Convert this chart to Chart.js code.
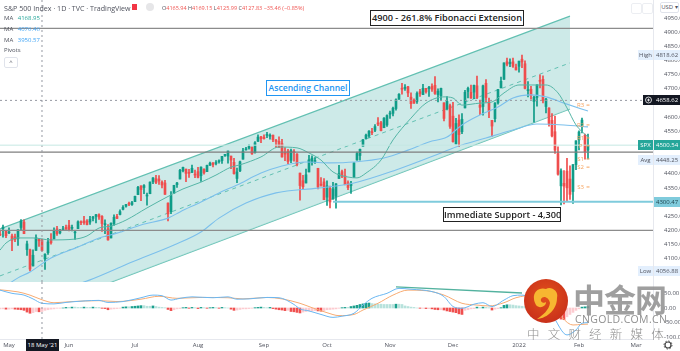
<!DOCTYPE html>
<html>
<head>
<meta charset="utf-8">
<title>S&amp;P 500 Index</title>
<script src="https://cdn.jsdelivr.net/npm/chart.js@4"></script>
<style>
  html, body { margin: 0; padding: 0; background: #fff; width: 680px; height: 351px; overflow: hidden; }
  canvas { position: absolute; left: 0; }
  #priceChart { top: 0; }
  #macdChart { top: 282px; }
  .t { position: absolute; white-space: nowrap; font-family: "Open Sans", sans-serif; font-size: 6px; line-height: 10px; color: #50535e; z-index: 2; }
  .note { position: absolute; white-space: nowrap; z-index: 3; background: #fff; border: 1px solid #222; text-align: center; font-family: "Open Sans", sans-serif; font-weight: 600; font-size: 9.2px; color: #222; box-sizing: border-box; }
  .mark { position: absolute; white-space: nowrap; z-index: 4; color: #8f8f8f; font-family: "Noto Sans CJK SC", sans-serif; }
</style>
</head>
<body>
<canvas id="priceChart" width="680" height="282"></canvas>
<canvas id="macdChart" width="680" height="69"></canvas>

<div class="t" style="left:4px;top:3px;font-size:7.1px">S&amp;P 500 Index · 1D · TVC · TradingView</div>
<div style="position:absolute;left:132px;top:4px;width:5px;height:6px;background:#f23645;z-index:2"></div>
<div style="position:absolute;left:146px;top:3px;width:8px;height:8px;border-radius:50%;background:#e6e6e8;z-index:2"></div>
<div class="t" style="left:162px;top:3px;color:#ef5350;font-size:5.5px"><span style="color:#50535e">O</span>4165.94 <span style="color:#50535e">H</span>4169.15 <span style="color:#50535e">L</span>4125.99 <span style="color:#50535e">C</span>4127.83 −35.46 (−0.85%)</div>
<div class="t" style="left:4px;top:13px">MA <span style="color:#26a69a;margin-left:3px">4168.95</span></div>
<div class="t" style="left:4px;top:24px">MA <span style="color:#42a5f5;margin-left:3px">4076.46</span></div>
<div class="t" style="left:4px;top:35px">MA <span style="color:#42a5f5;margin-left:3px">3950.57</span></div>
<div class="t" style="left:4px;top:45px">Pivots</div>
<div class="t" style="left:4px;top:57px;width:12px;height:9px;border:1px solid #e0e3eb;border-radius:2px;text-align:center;line-height:9px">^</div>

<div class="note" style="left:370px;top:10px;width:154px;height:16px;line-height:14px">4900 - 261.8% Fibonacci Extension</div>
<div class="note" style="left:266px;top:80px;width:84px;height:16px;line-height:14px;font-size:8.6px;color:#2196f3;border-color:#2196f3">Ascending Channel</div>
<div class="note" style="left:443px;top:207px;width:118px;height:15px;line-height:13px">Immediate Support - 4,300</div>

<div class="t" style="left:26px;top:339px;width:33px;height:12px;background:#131722;color:#fff;text-align:center;line-height:12px">18 May '21</div>

<!-- top right buttons -->
<div style="position:absolute;left:631px;top:3px;width:9px;height:9px;border:1px solid #eceef2;border-radius:2px;z-index:2"></div>
<div style="position:absolute;left:642px;top:3px;width:9px;height:9px;border:1px solid #eceef2;border-radius:2px;z-index:2"></div>
<div class="t" style="left:660px;top:2px;width:17px;height:9px;border:1px solid #e0e3eb;border-radius:2px;background:#fff;text-align:center;line-height:9px">USD ▾</div>
<svg style="position:absolute;left:663px;top:340px;z-index:2" width="10" height="10" viewBox="0 0 10 10"><circle cx="5" cy="5" r="3" fill="none" stroke="#444" stroke-width="1.2"/><circle cx="5" cy="5" r="4" fill="none" stroke="#444" stroke-width="1" stroke-dasharray="1.5 1.6"/></svg>

<!-- watermark -->
<svg style="position:absolute;left:524px;top:279px;z-index:4" width="44" height="44" viewBox="0 0 44 44">
  <defs><radialGradient id="logoFill" cx="0.5" cy="0.4" r="0.6"><stop offset="0" stop-color="#e2511c"/><stop offset="1" stop-color="#c9301a"/></radialGradient></defs>
  <circle cx="22" cy="22" r="22" fill="url(#logoFill)"/>
  <path d="M10 20 C9 12 16 8 22 10 C27 7 35 12 33 19 C33 30 24 39 13 40 C19 36 25 31 26 24 C25 18 19 16 17 20 C16 23 20 25 22 23 C22 28 15 30 12 26 C11 24 10 22 10 20 Z" fill="#f7b731"/>
</svg>
<div class="mark" style="left:573px;top:275px;font-size:32px;line-height:46px;font-weight:700;letter-spacing:-1px;opacity:.85">中金网</div>
<div class="mark" style="left:575px;top:313px;font-size:10.5px;line-height:12px;letter-spacing:.35px;font-family:'Open Sans',sans-serif">CNGOLD.COM.CN</div>
<div class="mark" style="left:527px;top:326px;font-size:12.5px;line-height:15px;letter-spacing:8.2px;font-weight:300">中文财经新媒体</div>

<script>
// bars start three sessions before 3 May 2021
const firstBar = -3;

// daily candles
const opens = [
  4185,4206,4198,
  4191,4180,4177,4170,4210,4229,4132,4131,4074,4129,4170,4166,4099,4121,4168,4170,4205,4191,4201,4210,
  4217,4207,4191,4206,4230,4233,4233,4229,4242,4249,4255,4249,4220,4205,4173,4224,4249,4256,4274,4285,4293,4291,
  4301,4326,4357,4351,4321,4329,4372,4382,4381,4370,4367,4296,4266,4331,4361,4381,4410,4416,4403,4404,4396,
  4407,4393,4416,4407,4429,4438,4436,4442,4446,4464,4462,4462,4440,4383,4410,4451,4484,4490,4493,4474,4514,4530,
  4529,4535,4532,4536,4518,4514,4506,4474,4480,4447,4478,4469,4402,4375,4367,4406,4439,4443,4419,4363,4371,
  4317,4348,4310,4320,4383,4407,4392,4368,4358,4387,4448,4464,4497,4524,4533,4546,4553,4579,4580,4562,4572,
  4610,4613,4630,4663,4700,4701,4707,4670,4659,4655,4689,4679,4701,4700,4708,4712,4679,4675,4650,4629,4640,
  4603,4505,4589,4548,4632,4690,4687,4688,4710,4642,4637,4719,4653,4588,4594,4650,4703,4733,4795,4788,4795,4776,
  4779,4804,4788,4693,4698,4655,4669,4728,4733,4637,4632,4588,4548,4471,4357,4366,4409,4381,4337,4432,
  4519,4566,4536,4483
];
const highs = [
  4201,4218,4198,
  4209,4187,4187,4202,4238,4237,4162,4134,4131,4184,4172,4169,4117,4172,4188,4209,4214,4203,4214,4218,
  4235,4218,4198,4233,4233,4249,4238,4249,4249,4256,4258,4252,4237,4220,4226,4255,4256,4272,4287,4292,4300,4302,
  4321,4355,4357,4361,4331,4371,4386,4394,4393,4375,4376,4297,4337,4359,4369,4415,4423,4416,4415,4430,4413,
  4422,4424,4417,4430,4441,4439,4446,4449,4461,4468,4480,4462,4454,4420,4444,4489,4493,4502,4495,4513,4537,4532,
  4537,4546,4541,4536,4521,4530,4521,4492,4486,4487,4485,4471,4402,4394,4416,4465,4463,4457,4419,4386,4383,
  4375,4356,4369,4365,4429,4413,4416,4375,4373,4439,4476,4487,4520,4540,4552,4560,4573,4598,4585,4598,4608,
  4621,4635,4664,4683,4719,4714,4708,4685,4664,4689,4698,4715,4701,4708,4717,4743,4699,4702,4650,4672,4646,
  4652,4595,4608,4612,4694,4706,4713,4713,4744,4660,4713,4732,4667,4588,4651,4698,4741,4791,4808,4805,4808,4787,
  4797,4819,4798,4725,4708,4674,4714,4749,4745,4666,4632,4612,4603,4495,4417,4411,4454,4428,4432,4516,
  4551,4596,4540,4540
];
const lows = [
  4181,4176,4174,
  4188,4128,4160,4147,4201,4188,4111,4057,4074,4129,4143,4126,4062,4115,4151,4170,4182,4187,4200,4203,
  4198,4198,4168,4206,4220,4221,4219,4221,4233,4226,4238,4196,4188,4165,4173,4217,4241,4254,4272,4282,4287,4288,
  4301,4326,4305,4329,4289,4329,4365,4365,4362,4350,4327,4233,4259,4330,4351,4381,4406,4372,4387,4404,4386,
  4385,4373,4398,4407,4430,4424,4431,4437,4436,4461,4437,4418,4398,4368,4407,4451,4483,4486,4468,4472,4514,4509,
  4522,4527,4522,4513,4493,4493,4458,4446,4435,4439,4444,4427,4306,4347,4367,4406,4430,4436,4346,4356,4308,
  4288,4279,4310,4278,4383,4386,4360,4343,4330,4387,4448,4448,4497,4522,4528,4538,4548,4569,4551,4562,4567,
  4595,4604,4624,4662,4681,4694,4672,4630,4648,4648,4673,4679,4684,4673,4690,4680,4653,4660,4586,4625,4560,
  4511,4505,4495,4541,4632,4667,4666,4665,4665,4608,4606,4652,4598,4531,4583,4645,4703,4733,4780,4778,4775,4766,
  4758,4774,4699,4671,4663,4582,4638,4703,4650,4614,4568,4530,4471,4395,4290,4293,4305,4309,4295,4414,
  4484,4544,4451,4452
];
const closes = [
  4183,4211,4181,
  4193,4165,4168,4202,4233,4188,4152,4063,4112,4174,4163,4128,4116,4159,4156,4197,4188,4196,4201,4204,
  4202,4208,4193,4230,4227,4227,4220,4239,4247,4255,4247,4224,4222,4166,4225,4246,4242,4266,4281,4291,4292,4298,
  4320,4352,4344,4358,4321,4370,4385,4369,4374,4360,4327,4258,4323,4359,4367,4412,4422,4401,4401,4419,4395,
  4387,4423,4403,4429,4437,4432,4437,4442,4461,4468,4480,4448,4400,4406,4442,4480,4486,4496,4470,4509,4529,4523,
  4524,4537,4535,4520,4514,4493,4459,4469,4443,4481,4474,4433,4358,4354,4396,4449,4455,4443,4353,4359,4308,
  4357,4300,4346,4364,4400,4391,4361,4351,4364,4438,4471,4486,4520,4536,4550,4545,4566,4575,4552,4596,4605,
  4614,4631,4661,4680,4698,4702,4685,4647,4649,4683,4683,4701,4689,4705,4698,4683,4691,4701,4595,4655,4567,
  4513,4577,4538,4592,4687,4701,4667,4712,4669,4634,4710,4669,4621,4568,4649,4697,4726,4791,4786,4793,4779,4766,
  4797,4794,4701,4696,4677,4670,4713,4726,4659,4663,4577,4533,4483,4398,4410,4356,4350,4327,4432,4516,
  4547,4589,4477,4501
];

// moving averages, sampled by eye at these bars
const ma20Bars = [-3,-1,3,8,14,22,26,30,34,39,46,54,58,64,69,74,77,84,90,96,100,104,108,113,116,119,124,128,134,139,145,148,151,157,161,165,170,174,179,183,186,189,193];
const ma20Values = [4130,4155,4173,4173,4166,4169,4180,4208,4215,4236,4279,4325,4346,4370,4395,4423,4431,4459,4494,4491,4473,4448,4406,4388,4385,4402,4448,4519,4596,4649,4671,4667,4642,4649,4653,4685,4713,4713,4713,4685,4632,4572,4529];
const ma50Bars = [0,3,7,14,23,30,36,44,53,57,64,70,76,84,91,99,107,115,125,133,140,146,151,157,163,168,174,179,185,193];
const ma50Values = [4012,4032,4053,4102,4141,4173,4190,4219,4243,4265,4300,4332,4360,4402,4427,4441,4438,4441,4455,4483,4512,4529,4572,4607,4635,4667,4678,4671,4649,4621];
const ma100Bars = [22,27,41,55,64,70,79,89,103,115,129,144,149,159,168,176,185,193];
const ma100Values = [4007,4025,4088,4148,4194,4243,4296,4332,4349,4367,4413,4473,4494,4526,4554,4575,4572,4565];

// ascending channel drawing
const channelBars = [-3,187];
const channelTop = [4205,4956];
const channelMiddle = [4039,4791];
const channelBottom = [3869,4628];

// horizontal levels
const resistanceLevel = 4913;
const middleLevel = 4476;
const lowerLevel = 4200;
const supportLevel = 4300.47;
const supportStartBar = 108;
const lastPrice = 4500.54;
const crosshairPrice = 4658.62;
const crosshairBar = 11;

// pivots next to the last bars
const pivotBar = 190.5;
const pivotNames = ['R3','R2','R1','P','S1','S2','S3'];
const pivotLevels = [4642,4572,4526,4498,4452,4423,4353];

// axis labels
const priceTicks = [4950,4900,4850,4800,4750,4700,4600,4550,4400,4350,4250,4200,4150,4100];
const macdTicks = [50,0,-50,-100];
const monthTicks = [0,20,42,63,85,106,127,148,170,190,209];
const monthLabels = ['May','Jun','Jul','Aug','Sep','Oct','Nov','Dec','2022','Feb','Mar'];

// macd pane
const macdBars = [-3,1,5,8,11,15,19,25,30,33,38,44,48,51,54,57,61,68,73,76,80,86,90,95,97,100,104,108,111,115,118,121,126,130,134,141,145,148,151,155,158,161,165,168,171,176,181,186,189,191,193];
const macdValues = [61,50,44,31,16,14,19,24,26,19,22,35,44,42,27,33,38,35,38,30,31,36,35,12,-3,-10,-22,-32,-28,-18,10,33,50,67,64,56,39,5,-1,13,18,5,27,42,44,25,-24,-92,-75,-52,-50];
const signalBars = [-3,3,7,11,15,21,30,36,44,50,56,64,73,78,86,91,97,101,106,110,115,118,123,128,133,139,145,151,156,160,165,169,175,181,188,191,193];
const signalValues = [62,55,44,28,18,22,25,22,30,40,33,36,35,31,36,31,16,1,-16,-26,-22,-7,16,44,61,59,44,16,10,7,18,35,44,5,-58,-56,-55];
const histogram = [
  -3,-3,-4,-4,-3,-4,-5,-6,-8,-14,-18,-16,-12,-13,-12,-8,-6,-4,-3,-1,-1,0,
  2,2,3,3,2,2,3,2,2,3,2,2,-1,-2,-6,-4,-3,-2,-1,3,4,4,5,6,7,8,8,6,6,7,5,3,2,1,
  -5,-9,-6,-3,-2,1,2,-1,2,1,-2,2,1,-1,1,2,1,-1,2,1,0,-4,-8,-7,-5,-3,-3,-2,-1,
  1,2,3,2,1,2,-2,-4,-6,-7,-9,-8,-12,-13,-15,-17,-14,-12,-10,-10,-9,-10,-11,-9,
  -6,-5,-4,-3,-1,1,2,2,5,7,9,12,14,16,17,15,14,13,13,12,12,12,12,13,13,12,7,5,3,2,
  0,-1,-1,-2,-2,-3,-5,-6,-6,-7,-10,-12,-14,-16,-20,-22,-8,-6,-3,-2,3,1,3,2,1,-7,-4,-2,1,
  9,11,11,10,8,7,6,5,3,1,-2,-4,-6,-10,-14,-18,-22,-26,-32,-38,-40,-30,-22,-15,-8,-3,3,4,5
];
const divergenceBars = [129,171];
const divergenceValues = [72,51];

// axis badges on the price scale
const badgeValues = [4818.62,4658.62,4500.54,4448.25,4300.47,4056.88];
const badgeTags = ['High','','SPX','Avg','','Low'];

const UP = '#0f9c88';
const DOWN = '#ef4d4d';
const LABEL = '#50535e';
const AXIS_FONT = { family: '"Open Sans", sans-serif', size: 6 };
const xMin = firstBar;
const xMax = 214.67;
const axisWidth = 27;

const pts = (xs, ys) => xs.map((x, i) => ({ x, y: ys[i] }));
const barOf = i => i + firstBar;
const candleColors = opens.map((o, i) => closes[i] >= o ? UP : DOWN);

function lineSet(data, color, width, extra) {
  return Object.assign({ type: 'line', data, borderColor: color, borderWidth: width, pointRadius: 0, fill: false, xAxisID: 'x', yAxisID: 'y', order: 5 }, extra);
}
function level(value, color, width, extra, from) {
  return lineSet(pts([from === undefined ? xMin : from, xMax], [value, value]), color, width, extra);
}
// labels would otherwise pull the panes in by half a line
function noEdgePadding(s) {
  s.paddingTop = 0;
  s.paddingBottom = 0;
  s.paddingLeft = 0;
  s.paddingRight = 0;
}

// pivots and right hand badges, placed through the scales
const pricePlugin = {
  id: 'priceExtras',
  afterDatasetsDraw(chart) {
    const { ctx, scales: { x, y } } = chart;
    ctx.save();
    ctx.textBaseline = 'middle';
    ctx.font = '6px "Open Sans", sans-serif';
    pivotNames.forEach((name, i) => {
      const py = y.getPixelForValue(pivotLevels[i]);
      const px = x.getPixelForValue(pivotBar);
      ctx.fillStyle = '#f6a35e';
      ctx.textAlign = 'center';
      ctx.fillText(name, px, py);
      ctx.fillRect(px + 6, py - 0.5, 3, 1);
    });
    ctx.restore();
  },
  afterDraw(chart) {
    const { ctx, scales: { y } } = chart;
    const styles = [
      { bg: '#e3effd', fg: LABEL },
      { bg: '#131722', fg: '#fff' },
      { bg: '#26a69a', fg: '#fff' },
      { bg: '#e3effd', fg: LABEL },
      { bg: '#7fcbdc', fg: '#1c3f48' },
      { bg: '#e3effd', fg: LABEL }
    ];
    ctx.save();
    ctx.textBaseline = 'middle';
    ctx.font = '6px "Open Sans", sans-serif';
    badgeValues.forEach((v, i) => {
      const py = Math.round(y.getPixelForValue(v));
      const s = styles[i];
      ctx.fillStyle = s.bg;
      ctx.fillRect(654, py - 5, 26, 10);
      ctx.fillStyle = s.fg;
      ctx.textAlign = 'left';
      ctx.fillText(v.toFixed(2), 656, py);
      if (badgeTags[i]) {
        ctx.fillStyle = s.bg;
        ctx.fillRect(638, py - 5, 15, 10);
        ctx.fillStyle = s.fg;
        ctx.textAlign = 'center';
        ctx.fillText(badgeTags[i], 645.5, py);
      }
    });
    // crosshair price badge icon
    const cy = Math.round(y.getPixelForValue(crosshairPrice));
    ctx.fillStyle = '#131722';
    ctx.fillRect(643, cy - 5, 11, 10);
    ctx.strokeStyle = '#fff';
    ctx.lineWidth = 0.8;
    ctx.beginPath();
    ctx.arc(648.5, cy, 3, 0, Math.PI * 2);
    ctx.moveTo(647, cy); ctx.lineTo(650, cy);
    ctx.moveTo(648.5, cy - 1.5); ctx.lineTo(648.5, cy + 1.5);
    ctx.stroke();
    ctx.restore();
  }
};

new Chart(document.getElementById('priceChart'), {
  type: 'bar',
  data: {
    datasets: [
      // channel first so everything else sits on it
      lineSet(pts(channelBars, channelTop), '#62c0b2', 1.2, { fill: '+1', backgroundColor: 'rgba(178,223,219,0.65)', order: 20 }),
      lineSet(pts(channelBars, channelBottom), '#62c0b2', 1.2, { order: 20 }),
      lineSet(pts(channelBars, channelMiddle), '#62c0b2', 1, { borderDash: [4, 4], order: 19 }),
      // candles
      { data: opens.map((o, i) => ({ x: barOf(i), y: [lows[i], highs[i]] })), backgroundColor: candleColors, barThickness: 1, grouped: false, order: 12 },
      { data: opens.map((o, i) => ({ x: barOf(i), y: [Math.min(o, closes[i]), Math.max(o, closes[i])] })), backgroundColor: candleColors, barThickness: 2, minBarLength: 1, grouped: false, order: 11 },
      // moving averages
      lineSet(pts(ma20Bars, ma20Values), '#55b5a6', 1, { cubicInterpolationMode: 'monotone', order: 8 }),
      lineSet(pts(ma50Bars, ma50Values), '#7cc0ec', 1.1, { cubicInterpolationMode: 'monotone', order: 8 }),
      lineSet(pts(ma100Bars, ma100Values), '#7cc0ec', 1.1, { cubicInterpolationMode: 'monotone', order: 8 }),
      // levels
      level(lastPrice, '#c5e8e3', 1),
      level(crosshairPrice, '#9598a1', 1, { borderDash: [2, 3] }),
      lineSet(pts([crosshairBar, crosshairBar], [4017.5, 5013]), '#9598a1', 1, { borderDash: [2, 3] }),
      level(resistanceLevel, '#8c8c8c', 1.3),
      level(middleLevel, '#7f7f7f', 1.3),
      level(lowerLevel, '#8c8c8c', 1.3),
      level(supportLevel, '#7fcbdc', 2, {}, supportStartBar)
    ]
  },
  options: {
    responsive: false,
    animation: false,
    events: [],
    layout: { padding: 0, autoPadding: false },
    plugins: { legend: { display: false }, tooltip: { enabled: false } },
    scales: {
      x: { type: 'linear', display: false, min: xMin, max: xMax, offset: false, grid: { display: false } },
      y: {
        position: 'right',
        min: 4017.5,
        max: 5013,
        grid: { display: false },
        border: { color: '#e6e8ee' },
        afterFit: s => { s.width = axisWidth; noEdgePadding(s); },
        afterBuildTicks: s => { s.ticks = priceTicks.map(value => ({ value })); },
        ticks: { color: LABEL, font: AXIS_FONT, padding: 3, autoSkip: false, callback: v => v.toFixed(2) }
      }
    }
  },
  plugins: [pricePlugin]
});

new Chart(document.getElementById('macdChart'), {
  type: 'bar',
  data: {
    datasets: [
      {
        data: histogram.map((v, i) => ({ x: barOf(i), y: v })),
        backgroundColor: histogram.map((v, i) => {
          const prev = i ? histogram[i - 1] : v;
          if (v >= 0) return v > prev ? '#1ba08e' : '#b7e2dc';
          return v < prev ? '#f0504f' : '#fccbd0';
        }),
        barThickness: 2,
        grouped: false,
        order: 10
      },
      lineSet(pts(signalBars, signalValues), '#f7ab72', 1, { cubicInterpolationMode: 'monotone', order: 6 }),
      lineSet(pts(macdBars, macdValues), '#6ab7f2', 1, { cubicInterpolationMode: 'monotone', order: 5 }),
      lineSet(pts(divergenceBars, divergenceValues), '#53b29f', 1.4, { order: 4 }),
      lineSet(pts([crosshairBar, crosshairBar], [-105.8, 88.7]), '#9598a1', 1, { borderDash: [2, 3], order: 3 })
    ]
  },
  options: {
    responsive: false,
    animation: false,
    events: [],
    layout: { padding: 0, autoPadding: false },
    plugins: { legend: { display: false }, tooltip: { enabled: false } },
    scales: {
      x: {
        type: 'linear',
        min: xMin,
        max: xMax,
        offset: false,
        grid: { display: false, drawTicks: false },
        border: { color: '#e6e8ee' },
        afterFit: s => { s.height = 12; noEdgePadding(s); },
        afterBuildTicks: s => { s.ticks = monthTicks.map(value => ({ value })); },
        ticks: {
          color: LABEL,
          font: AXIS_FONT,
          padding: 3,
          maxRotation: 0,
          autoSkip: false,
          callback: v => monthLabels[monthTicks.indexOf(v)]
        }
      },
      y: {
        position: 'right',
        min: -105.8,
        max: 88.7,
        grid: { display: false },
        border: { color: '#e6e8ee' },
        afterFit: s => { s.width = axisWidth; noEdgePadding(s); },
        afterBuildTicks: s => { s.ticks = macdTicks.map(value => ({ value })); },
        ticks: { color: LABEL, font: AXIS_FONT, padding: 3, autoSkip: false, callback: v => v.toFixed(2) }
      }
    }
  }
});
</script>
</body>
</html>
